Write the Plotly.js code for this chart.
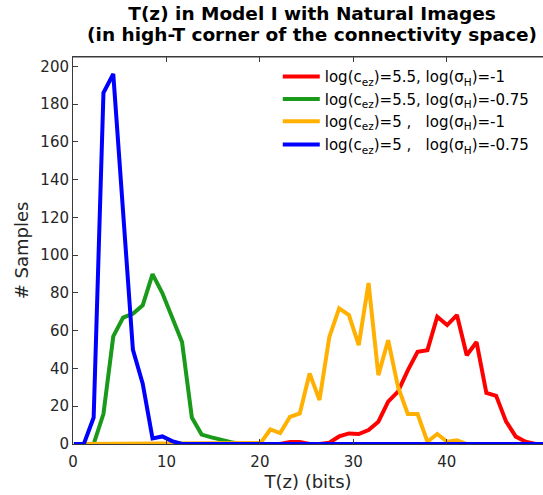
<!DOCTYPE html>
<html>
<head>
<meta charset="utf-8">
<script src="https://cdn.plot.ly/plotly-3.0.1.min.js"></script>
<style>html,body{margin:0;padding:0;background:#fff;}#chart{width:543px;height:495px;}</style>
</head>
<body>
<div id="chart"></div>
<script>
// Bin centres T(z) in bits (shared histogram bins)
const binsT = [0.10, 1.16, 2.21, 3.26, 4.31, 5.36, 6.41, 7.46, 8.51, 9.56, 10.61, 11.67, 12.72, 13.77, 14.82, 15.87, 16.92, 17.97, 19.02, 20.07, 21.12, 22.17, 23.22, 24.27, 25.32, 26.38, 27.43, 28.48, 29.53, 30.58, 31.63, 32.68, 33.73, 34.78, 35.83, 36.88, 37.93, 38.98, 40.04, 41.09, 42.14, 43.19, 44.24, 45.29, 46.34, 47.39, 48.44, 49.49, 50.54];

// log(c_ez)=5.5, log(sigma_H)=-1
const redCounts = [0,0,0,0,0,0,0,0,0,0,0,0,0,0,0,0,0,0,0,0,0,0,1,1,0,0,0.7,4,5.6,5.3,7.4,11.8,22.4,27.7,39,48.8,49.7,67.4,63,68.3,47,54,27,25.5,12,3.9,1.2,0,0];
// log(c_ez)=5.5, log(sigma_H)=-0.75
const greenCounts = [0,0,0,16,57,67,69,73.5,90,80,67,54,14,5,3.5,2,1,0,0,0,0,0,0,0,0,0,0,0,0,0,0,0,0,0,0,0,0,0,0,0,0,0,0,0,0,0,0,0,0];
// log(c_ez)=5, log(sigma_H)=-1
const orangeCounts = [0,0,0,0,0,0,0,0,0,0,0,0,0,0,0,0,0,0,0,0.5,7.7,5.8,14.4,16.2,37.4,23.3,56.6,71.8,68.3,52.4,85.3,36.5,55,30.3,15.9,15.9,1.2,5.3,1.2,2,0,0,0,0,0,0,0,0,0];
// log(c_ez)=5, log(sigma_H)=-0.75
const blueCounts = [0,0,14,186,196,125,50,32,3,4,1.5,0,0,0,0,0,0,0,0,0,0,0,0,0,0,0,0,0,0,0,0,0,0,0,0,0,0,0,0,0,0,0,0,0,0,0,0,0,0];

const seriesNames = [
  'log(c<sub>ez</sub>)=5.5, log(σ<sub>H</sub>)=-1',
  'log(c<sub>ez</sub>)=5.5, log(σ<sub>H</sub>)=-0.75',
  'log(c<sub>ez</sub>)=5 ,\u00A0\u00A0 log(σ<sub>H</sub>)=-1',
  'log(c<sub>ez</sub>)=5 ,\u00A0\u00A0 log(σ<sub>H</sub>)=-0.75'
];
const seriesColors = ['#ff0000', '#1a9a1a', '#ffb000', '#0000ff'];
const seriesCounts = [redCounts, greenCounts, orangeCounts, blueCounts];
const legendIds = ['legend', 'legend2', 'legend3', 'legend4'];
const legendTops = [0.9915, 0.9336, 0.876, 0.8158];
const xTicks = [0, 10, 20, 30, 40];
const yTicks = [0, 20, 40, 60, 80, 100, 120, 140, 160, 180, 200];
const titleLines = ['T(z) in Model I with Natural Images', '(in high-T corner of the connectivity space)'];

const traces = seriesCounts.map((c, i) => ({
  x: binsT, y: c, type: 'scatter', mode: 'lines', name: seriesNames[i],
  legend: legendIds[i],
  line: {color: seriesColors[i], width: 4}, hoverinfo: 'skip'
}));
// empty trace to carry the mirrored top axis (inward ticks)
traces.push({x: [], y: [], type: 'scatter', mode: 'lines', xaxis: 'x2', yaxis: 'y', showlegend: false, hoverinfo: 'skip'});

const axisColor = '#3a3a3a';
const fontFam = 'DejaVu Sans, sans-serif';
const layout = {
  width: 543, height: 495,
  margin: {l: 73, r: 0, t: 57, b: 51},
  paper_bgcolor: '#ffffff', plot_bgcolor: '#ffffff',
  font: {family: fontFam, color: '#262626', size: 15},
  title: {
    text: titleLines.map(t => '<b><span style="font-size:18.5px">' + t + '</span></b>').join('<br>'),
    font: {family: fontFam, size: 16, color: '#000000'},
    x: 0.5746, xref: 'container', xanchor: 'center',
    y: 0.9586, yref: 'container', yanchor: 'middle'
  },
  xaxis: {
    range: [0, 50.3], tickvals: xTicks, ticks: 'inside', ticklen: 5,
    tickcolor: axisColor, showline: true, linecolor: axisColor, linewidth: 1,
    mirror: false, showgrid: false, zeroline: false, ticklabelstandoff: 4,
    tickfont: {family: fontFam, size: 15, color: '#262626'},
    title: {text: 'T(z) (bits)', font: {family: fontFam, size: 18, color: '#262626'}, standoff: 5}
  },
  xaxis2: {
    overlaying: 'x', side: 'top', anchor: 'y', range: [0, 50.3], tickvals: xTicks,
    ticks: 'inside', ticklen: 5, tickcolor: axisColor, showline: true, linecolor: axisColor,
    linewidth: 1, showticklabels: false, showgrid: false, zeroline: false
  },
  yaxis: {
    range: [0, 205], tickvals: yTicks, ticks: 'inside', ticklen: 5,
    tickcolor: axisColor, showline: true, linecolor: axisColor, linewidth: 1,
    mirror: false, showgrid: false, zeroline: false,
    tickfont: {family: fontFam, size: 15, color: '#262626'},
    title: {text: '# Samples', font: {family: fontFam, size: 18, color: '#262626'}, standoff: 7}
  },
  shapes: [{
    type: 'line', xref: 'paper', yref: 'paper', x0: 0, x1: 1, y0: 1, y1: 1,
    line: {color: axisColor, width: 1}, layer: 'above'
  }],
  showlegend: true
};
legendIds.forEach((id, i) => {
  layout[id] = {
    x: 0.4357, y: legendTops[i], xanchor: 'left', yanchor: 'top',
    bgcolor: 'rgba(255,255,255,0)', borderwidth: 0,
    font: {family: fontFam, size: 15, color: '#000000'},
    itemwidth: 37
  };
});

Plotly.newPlot('chart', traces, layout, {staticPlot: true, displayModeBar: false});
</script>
</body>
</html>
